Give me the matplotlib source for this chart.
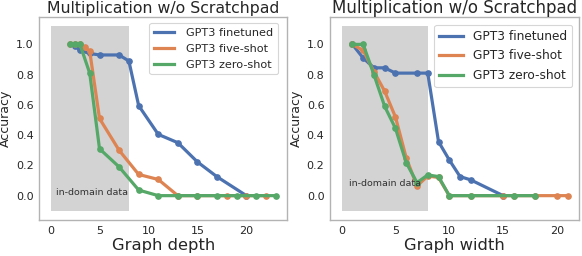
import matplotlib
matplotlib.use("Agg")
import matplotlib.pyplot as plt
from matplotlib.patches import Rectangle

# ---- data: Graph depth panel ----
depth_ft_x = [2.5, 3, 4, 5, 7, 8, 9, 11, 13, 15, 17, 20]
depth_ft_y = [0.99, 0.96, 0.94, 0.93, 0.93, 0.89, 0.595, 0.405, 0.35, 0.223, 0.125, 0.0]
depth_fs_x = [2, 2.5, 3, 3.5, 4, 5, 7, 9, 11, 13, 15, 18, 20, 22]
depth_fs_y = [1.0, 1.0, 1.0, 0.98, 0.955, 0.51, 0.30, 0.14, 0.107, 0.0, 0.0, 0.0, 0.0, 0.0]
depth_zs_x = [2, 2.5, 3, 4, 5, 7, 9, 11, 13, 15, 17, 19, 21, 23]
depth_zs_y = [1.0, 1.0, 1.0, 0.81, 0.31, 0.19, 0.037, 0.0, 0.0, 0.0, 0.0, 0.0, 0.0, 0.0]

# ---- data: Graph width panel ----
width_ft_x = [1, 2, 3, 4, 5, 7, 8, 9, 10, 11, 12, 15]
width_ft_y = [1.0, 0.91, 0.845, 0.845, 0.81, 0.81, 0.81, 0.357, 0.236, 0.126, 0.104, 0.0]
width_fs_x = [1, 2, 3, 4, 5, 6, 7, 8, 9, 10, 12, 15, 16, 18, 20, 21]
width_fs_y = [1.0, 0.96, 0.82, 0.69, 0.52, 0.25, 0.064, 0.13, 0.12, 0.0, 0.0, 0.0, 0.0, 0.0, 0.0, 0.0]
width_zs_x = [1, 2, 3, 4, 5, 6, 7, 8, 9, 10, 12, 16, 18]
width_zs_y = [1.0, 1.0, 0.80, 0.59, 0.445, 0.218, 0.086, 0.137, 0.126, 0.0, 0.0, 0.0, 0.0]

labels = ["GPT3 finetuned", "GPT3 five-shot", "GPT3 zero-shot"]
colors = ["#4C72B0", "#DD8452", "#55A868"]
title = "Multiplication w/o Scratchpad"
xlabels = ["Graph depth", "Graph width"]
ylabel = "Accuracy"
domain_text = "in-domain data"
domain_range = (0, 8)

W, H = 582, 256
fig = plt.figure(figsize=(W / 100, H / 100), dpi=100)

def make_ax(left, right, top, bottom):
    return fig.add_axes([left / W, 1 - bottom / H, (right - left) / W, (bottom - top) / H])

ax1 = make_ax(39.3, 287, 17, 220)
ax2 = make_ax(330, 579, 17, 220)

panels = [
    dict(ax=ax1, series=[(depth_ft_x, depth_ft_y), (depth_fs_x, depth_fs_y), (depth_zs_x, depth_zs_y)],
         xl=xlabels[0], tpos=(4.25, 0.02), xlim=(-1.15, 24.15), tsize=11.3, lsize=8.1,
         hl=1.8, htp=1.1, anchor=((278 - 39.3) / 247.7, 1 - 6 / 203)),
    dict(ax=ax2, series=[(width_ft_x, width_ft_y), (width_fs_x, width_fs_y), (width_zs_x, width_zs_y)],
         xl=xlabels[1], tpos=(4.0, 0.08), xlim=(-1.08, 22.05), tsize=12.0, lsize=8.7,
         hl=2.0, htp=0.8, anchor=((572 - 330) / 249, 1 - 8 / 203)),
]

for p in panels:
    ax = p["ax"]
    rect = Rectangle((domain_range[0], -0.1), domain_range[1] - domain_range[0], 1.22,
                     facecolor="#D3D3D3", edgecolor="none", zorder=0)
    ax.add_patch(rect)
    for (xs, ys), lab, c in zip(p["series"], labels, colors):
        ax.plot(xs, ys, "-o", color=c, label=lab, lw=2.3, ms=3.8, zorder=2)
    ax.text(p["tpos"][0], p["tpos"][1], domain_text, ha="center", va="center",
            fontsize=6.8, color="#333333", zorder=3)
    ax.set_xlim(*p["xlim"])
    ax.set_ylim(-0.161, 1.181)
    ax.set_xticks([0, 5, 10, 15, 20])
    ax.set_yticks([0.0, 0.2, 0.4, 0.6, 0.8, 1.0])
    ax.tick_params(length=0, labelsize=8, colors="#262626", pad=4)
    for s in ax.spines.values():
        s.set_color("#b3b3b3")
        s.set_linewidth(1.0)
    ax.set_title(title, fontsize=p["tsize"], color="#262626", pad=3)
    ax.set_xlabel(p["xl"], fontsize=11.8, color="#262626", labelpad=2)
    ax.set_ylabel(ylabel, fontsize=9, color="#262626", labelpad=3)
    leg = ax.legend(loc="upper right", bbox_to_anchor=p["anchor"], borderaxespad=0,
                    fontsize=p["lsize"], frameon=True, handlelength=p["hl"],
                    handletextpad=p["htp"], labelspacing=0.55, borderpad=0.4)
    leg.get_frame().set_edgecolor("#cccccc")
    leg.get_frame().set_linewidth(0.8)
    for h in leg.get_lines():
        h.set_marker("")
        h.set_linewidth(2.3)
    for t in leg.get_texts():
        t.set_color("#262626")

fig.savefig("out.png", dpi=100)
